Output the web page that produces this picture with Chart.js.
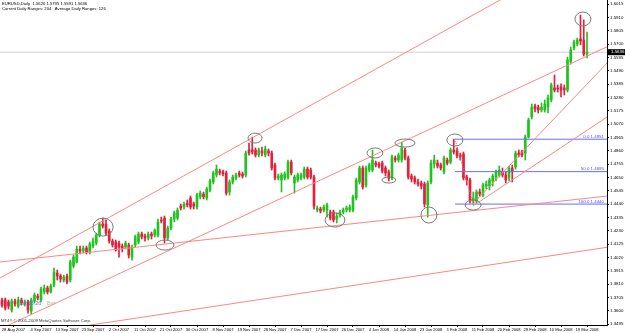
<!DOCTYPE html>
<html>
<head>
<meta charset="utf-8">
<script src="https://cdn.jsdelivr.net/npm/chart.js@4.4.1/dist/chart.umd.min.js"></script>
<style>
  html, body { margin: 0; padding: 0; background: #fff; }
  canvas { display: block; }
</style>
</head>
<body>
<canvas id="eurusdChart" width="625" height="333"></canvas>
<script>
// EURUSD daily candles, oldest first (last bar = 19 Mar 2008)
const opens = [
  1.3685,1.3685,1.3669,1.3606,1.3677,1.3637,1.3685,1.3653,1.3669,1.3598,
  1.3677,1.3716,1.3685,1.3748,1.3779,1.3748,1.3803,1.3897,1.3874,1.3842,
  1.3874,1.3842,1.3952,1.3984,1.4086,1.4070,1.4094,1.4063,1.4110,1.4133,
  1.4196,1.4283,1.4283,1.4228,1.4149,1.4141,1.4133,1.4110,1.4102,1.4118,
  1.4023,1.4118,1.4141,1.4204,1.4189,1.4173,1.4204,1.4196,1.4196,1.4315,
  1.4330,1.4173,1.4251,1.4322,1.4330,1.4425,1.4417,1.4448,1.4488,1.4441,
  1.4417,1.4496,1.4519,1.4488,1.4551,1.4614,1.4669,1.4700,1.4693,1.4685,
  1.4535,1.4614,1.4645,1.4685,1.4677,1.4669,1.4866,1.4866,1.4866,1.4826,
  1.4858,1.4826,1.4858,1.4842,1.4748,1.4645,1.4630,1.4645,1.4653,1.4771,
  1.4606,1.4630,1.4645,1.4653,1.4716,1.4708,1.4653,1.4393,1.4401,1.4393,
  1.4393,1.4378,1.4378,1.4322,1.4354,1.4378,1.4393,1.4393,1.4393,1.4488,
  1.4614,1.4724,1.4590,1.4708,1.4708,1.4763,1.4756,1.4763,1.4724,1.4693,
  1.4645,1.4803,1.4787,1.4787,1.4866,1.4803,1.4661,1.4645,1.4614,1.4606,
  1.4598,1.4433,1.4614,1.4756,1.4763,1.4748,1.4693,1.4787,1.4771,1.4866,
  1.4858,1.4826,1.4834,1.4653,1.4630,1.4472,1.4464,1.4535,1.4511,1.4582,
  1.4582,1.4622,1.4653,1.4669,1.4693,1.4669,1.4645,1.4724,1.4732,1.4842,
  1.4850,1.4842,1.4968,1.5126,1.5212,1.5204,1.5181,1.5181,1.5204,1.5260,
  1.5354,1.5354,1.5362,1.5354,1.5338,1.5559,1.5669,1.5700,1.5740,1.5732,
  1.5620
];
const highs = [
  1.3700,1.3700,1.3685,1.3692,1.3692,1.3708,1.3700,1.3685,1.3685,1.3700,
  1.3740,1.3732,1.3787,1.3803,1.3795,1.3811,1.3937,1.3921,1.3889,1.3881,
  1.3889,1.3999,1.4039,1.4110,1.4110,1.4110,1.4110,1.4141,1.4173,1.4212,
  1.4299,1.4330,1.4315,1.4244,1.4165,1.4157,1.4149,1.4126,1.4149,1.4133,
  1.4118,1.4196,1.4220,1.4220,1.4204,1.4220,1.4220,1.4244,1.4322,1.4338,
  1.4346,1.4267,1.4338,1.4385,1.4409,1.4441,1.4456,1.4472,1.4504,1.4456,
  1.4527,1.4543,1.4535,1.4574,1.4637,1.4700,1.4748,1.4716,1.4708,1.4700,
  1.4630,1.4669,1.4685,1.4700,1.4693,1.4858,1.4921,1.4968,1.4882,1.4882,
  1.4889,1.4897,1.4874,1.4858,1.4763,1.4677,1.4685,1.4693,1.4787,1.4787,
  1.4669,1.4685,1.4685,1.4732,1.4732,1.4724,1.4669,1.4425,1.4417,1.4433,
  1.4448,1.4393,1.4393,1.4370,1.4393,1.4409,1.4425,1.4433,1.4511,1.4645,
  1.4740,1.4740,1.4740,1.4763,1.4866,1.4779,1.4771,1.4779,1.4740,1.4708,
  1.4826,1.4819,1.4842,1.4929,1.4882,1.4819,1.4677,1.4661,1.4637,1.4622,
  1.4614,1.4622,1.4787,1.4826,1.4787,1.4763,1.4819,1.4803,1.4882,1.4952,
  1.4882,1.4842,1.4850,1.4669,1.4645,1.4535,1.4551,1.4559,1.4606,1.4622,
  1.4645,1.4677,1.4708,1.4740,1.4724,1.4693,1.4740,1.4748,1.4858,1.4866,
  1.4866,1.4984,1.5118,1.5228,1.5228,1.5220,1.5236,1.5260,1.5299,1.5393,
  1.5456,1.5378,1.5386,1.5378,1.5598,1.5677,1.5732,1.5748,1.5929,1.5890,
  1.5795
];
const lows = [
  1.3629,1.3606,1.3614,1.3590,1.3637,1.3622,1.3645,1.3637,1.3582,1.3574,
  1.3661,1.3685,1.3669,1.3732,1.3732,1.3740,1.3787,1.3842,1.3826,1.3826,
  1.3811,1.3826,1.3937,1.3976,1.4047,1.4055,1.4047,1.4047,1.4094,1.4118,
  1.4181,1.4251,1.4196,1.4133,1.4102,1.4070,1.4023,1.4063,1.4086,1.4015,
  1.3999,1.4102,1.4126,1.4165,1.4149,1.4157,1.4165,1.4181,1.4181,1.4291,
  1.4133,1.4157,1.4236,1.4299,1.4315,1.4393,1.4401,1.4417,1.4401,1.4401,
  1.4401,1.4480,1.4480,1.4472,1.4535,1.4598,1.4653,1.4669,1.4661,1.4511,
  1.4511,1.4598,1.4630,1.4653,1.4645,1.4653,1.4826,1.4834,1.4811,1.4811,
  1.4819,1.4811,1.4819,1.4708,1.4630,1.4630,1.4535,1.4630,1.4637,1.4669,
  1.4527,1.4614,1.4630,1.4637,1.4637,1.4637,1.4401,1.4378,1.4370,1.4378,
  1.4338,1.4315,1.4299,1.4291,1.4338,1.4362,1.4378,1.4378,1.4378,1.4472,
  1.4598,1.4559,1.4574,1.4693,1.4693,1.4732,1.4724,1.4685,1.4661,1.4622,
  1.4630,1.4771,1.4771,1.4771,1.4787,1.4637,1.4614,1.4598,1.4582,1.4559,
  1.4417,1.4338,1.4598,1.4724,1.4724,1.4708,1.4677,1.4748,1.4756,1.4834,
  1.4803,1.4787,1.4630,1.4590,1.4448,1.4441,1.4448,1.4504,1.4496,1.4559,
  1.4551,1.4582,1.4622,1.4653,1.4653,1.4606,1.4622,1.4614,1.4716,1.4811,
  1.4811,1.4787,1.4960,1.5110,1.5165,1.5157,1.5165,1.5165,1.5157,1.5244,
  1.5322,1.5322,1.5283,1.5299,1.5322,1.5543,1.5653,1.5685,1.5693,1.5606,
  1.5591
];
const closes = [
  1.3645,1.3622,1.3637,1.3677,1.3653,1.3685,1.3661,1.3669,1.3606,1.3685,
  1.3724,1.3700,1.3771,1.3779,1.3748,1.3795,1.3905,1.3874,1.3850,1.3866,
  1.3826,1.3984,1.4023,1.4086,1.4070,1.4094,1.4063,1.4126,1.4149,1.4196,
  1.4283,1.4267,1.4212,1.4149,1.4118,1.4078,1.4102,1.4094,1.4133,1.4039,
  1.4102,1.4181,1.4204,1.4181,1.4173,1.4204,1.4189,1.4236,1.4299,1.4307,
  1.4173,1.4251,1.4322,1.4370,1.4393,1.4409,1.4441,1.4433,1.4417,1.4425,
  1.4511,1.4527,1.4496,1.4559,1.4622,1.4685,1.4716,1.4685,1.4677,1.4527,
  1.4614,1.4653,1.4669,1.4669,1.4661,1.4842,1.4842,1.4850,1.4826,1.4866,
  1.4842,1.4874,1.4842,1.4724,1.4645,1.4661,1.4669,1.4677,1.4771,1.4685,
  1.4653,1.4669,1.4669,1.4716,1.4653,1.4653,1.4425,1.4409,1.4385,1.4417,
  1.4433,1.4330,1.4315,1.4346,1.4378,1.4393,1.4409,1.4417,1.4496,1.4630,
  1.4724,1.4574,1.4724,1.4748,1.4787,1.4748,1.4740,1.4700,1.4685,1.4645,
  1.4811,1.4787,1.4826,1.4882,1.4803,1.4653,1.4637,1.4614,1.4598,1.4582,
  1.4441,1.4606,1.4763,1.4787,1.4740,1.4724,1.4803,1.4763,1.4866,1.4850,
  1.4819,1.4811,1.4645,1.4630,1.4472,1.4488,1.4535,1.4519,1.4590,1.4598,
  1.4630,1.4661,1.4693,1.4708,1.4669,1.4630,1.4724,1.4700,1.4842,1.4826,
  1.4826,1.4968,1.5102,1.5204,1.5189,1.5181,1.5204,1.5228,1.5275,1.5378,
  1.5338,1.5346,1.5338,1.5338,1.5575,1.5653,1.5716,1.5732,1.5724,1.5621,
  1.5636
];

// time axis labels (one every 8 bars, counted back from the last bar)
const dateLabels = ['28 Aug 2007','4 Sep 2007','13 Sep 2007','23 Sep 2007','2 Oct 2007','11 Oct 2007',
  '21 Oct 2007','30 Oct 2007','8 Nov 2007','19 Nov 2007','28 Nov 2007','7 Dec 2007','17 Dec 2007',
  '26 Dec 2007','4 Jan 2008','14 Jan 2008','23 Jan 2008','1 Feb 2008','11 Feb 2008','20 Feb 2008',
  '29 Feb 2008','10 Mar 2008','19 Mar 2008'];
const priceTicks = [1.3495,1.3600,1.3705,1.3810,1.3915,1.4020,1.4125,1.4230,1.4335,1.4440,1.4545,
  1.4650,1.4755,1.4860,1.4965,1.5070,1.5175,1.5280,1.5385,1.5490,1.5595,1.5700,1.5805,1.5910,1.6015];

// objects drawn on the chart, as [bar, price] anchors
const trendLines = [
  [[-0.6, 1.3858], [186.2, 1.6516]],
  [[-0.6, 1.3456], [186.2, 1.5679]],
  [[-0.6, 1.3984], [186.2, 1.4503]],
  [[-0.6, 1.3381], [186.2, 1.4100]],
  [[144.6, 1.4433], [186.2, 1.5551]],
  [[144.9, 1.4425], [186.2, 1.5126]]
];
const fiboHigh = [139.4, 1.4951];
const fiboLow = [144.9, 1.4440];
const fiboLevels = [0, 50, 100];
const bidPrice = 1.5636;
// ellipses: [bar1, price1, bar2, price2]
const ellipses = [
  [28.0, 1.4330, 34.2, 1.4188], [47.4, 1.4157, 52.9, 1.4078], [75.7, 1.4999, 80.0, 1.4921],
  [99.4, 1.4370, 105.5, 1.4259], [112.3, 1.4882, 117.2, 1.4803], [116.9, 1.4653, 121.2, 1.4606],
  [120.9, 1.4952, 127.1, 1.4889], [128.9, 1.4417, 133.8, 1.4291], [136.9, 1.4992, 141.8, 1.4897],
  [142.5, 1.4472, 147.4, 1.4393], [176.3, 1.5952, 181.2, 1.5842]
];
const headerLines = ['EURUSD,Daily  1.5620 1.5795 1.5591 1.5636',
  'Current Daily Ranges: 204   Average Daily Ranges: 126'];

const lastBar = opens.length - 1;
const isBull = closes.map((c, i) => c >= opens[i]);
const bullColor = '#1fc41f';
const bearColor = '#e4203a';
const fiboPrice = lvl => fiboHigh[1] - (fiboHigh[1] - fiboLow[1]) * lvl / 100;

// tick positions: every 8 bars back from the last one, first label pinned to the left edge
const dateBars = dateLabels.map((d, k) => k === 0 ? 3.5 : lastBar - 8 * (dateLabels.length - 1 - k));

const datasets = [];
trendLines.forEach(l => {
  datasets.push({
    type: 'line', data: l.map(p => ({ x: p[0], y: p[1] })),
    borderColor: '#ff8585', borderWidth: 1, pointRadius: 0, order: 0
  });
});
datasets.push({
  type: 'line', data: [{ x: fiboHigh[0], y: fiboHigh[1] }, { x: fiboLow[0], y: fiboLow[1] }],
  borderColor: '#f06a6a', borderWidth: 1, borderDash: [1, 1], pointRadius: 0, order: 0
});
fiboLevels.forEach(lvl => {
  datasets.push({
    type: 'line', data: [{ x: fiboHigh[0], y: fiboPrice(lvl) }, { x: 186.2, y: fiboPrice(lvl) }],
    borderColor: '#6b6bf5', borderWidth: 1, pointRadius: 0, order: 0
  });
});
datasets.push({
  type: 'line', data: [{ x: -0.6, y: bidPrice }, { x: 186.2, y: bidPrice }],
  borderColor: '#cfcfcf', borderWidth: 1, pointRadius: 0, order: 3
});
// candle bodies
datasets.push({
  type: 'bar', data: opens.map((o, i) => ({ x: i, y: [o, closes[i]] })),
  backgroundColor: isBull.map(b => b ? bullColor : bearColor),
  barThickness: 2, minBarLength: 1, grouped: false, borderWidth: 0, order: 1
});
// wicks
datasets.push({
  type: 'bar', data: lows.map((l, i) => ({ x: i, y: [l, highs[i]] })),
  backgroundColor: isBull.map(b => b ? bullColor : bearColor),
  barThickness: 1, grouped: false, borderWidth: 0, order: 2
});

const overlay = {
  id: 'overlay',
  afterDraw(chart) {
    const { ctx, chartArea: a, scales: { x, y } } = chart;
    ctx.save();
    ctx.beginPath();
    ctx.rect(a.left, a.top, a.right - a.left, a.bottom - a.top);
    ctx.clip();
    ctx.strokeStyle = '#7a7a7a';
    ctx.lineWidth = 1;
    ellipses.forEach(([b1, p1, b2, p2]) => {
      const x1 = x.getPixelForValue(b1), x2 = x.getPixelForValue(b2);
      const y1 = y.getPixelForValue(p1), y2 = y.getPixelForValue(p2);
      ctx.beginPath();
      ctx.ellipse((x1 + x2) / 2, (y1 + y2) / 2, Math.abs(x2 - x1) / 2, Math.abs(y2 - y1) / 2, 0, 0, Math.PI * 2);
      ctx.stroke();
    });
    ctx.font = '4.4px "Liberation Sans"';
    ctx.fillStyle = '#4a4aff';
    ctx.textAlign = 'right';
    ctx.textBaseline = 'bottom';
    fiboLevels.forEach(lvl => {
      const p = fiboPrice(lvl);
      ctx.fillText(lvl.toFixed(1) + ' ' + p.toFixed(4), a.right - 3, y.getPixelForValue(p) - 0.5);
    });
    ctx.textAlign = 'left';
    ctx.textBaseline = 'middle';
    ctx.fillStyle = '#000';
    ctx.font = '4.2px "Liberation Sans"';
    headerLines.forEach((t, i) => ctx.fillText(t, 2, 4 + i * 5));
    ctx.font = '5.5px "Liberation Sans"';
    ctx.fillStyle = '#6a6aff';
    ctx.fillText('23:15:26', 20, 303.5);
    ctx.fillStyle = '#b8b8b8';
    ctx.fillText('Bar', 47, 303.5);
    ctx.font = '4.2px "Liberation Sans"';
    ctx.fillStyle = '#333';
    ctx.fillText('MT4\u00ae \u00a9 2001-2009 MetaQuotes Software Corp.', 1, 320.5);
    ctx.restore();
    // current price tag on the price axis
    const py = y.getPixelForValue(bidPrice);
    ctx.save();
    ctx.fillStyle = '#000';
    ctx.fillRect(a.right + 1, py - 3, chart.width - a.right - 1, 6);
    ctx.fillStyle = '#fff';
    ctx.font = '4.4px "Liberation Sans"';
    ctx.textBaseline = 'middle';
    ctx.fillText(bidPrice.toFixed(4), a.right + 4, py);
    ctx.restore();
  }
};

const ctx = document.getElementById('eurusdChart').getContext('2d');
const chart = new Chart(ctx, {
  type: 'bar',
  data: { datasets: datasets },
  plugins: [overlay],
  options: {
    responsive: false,
    animation: false,
    devicePixelRatio: 1,
    layout: { padding: 0 },
    plugins: { legend: { display: false }, tooltip: { enabled: false } },
    scales: {
      x: {
        type: 'linear', min: -2 / 3.25, max: 605 / 3.25, offset: false,
        afterBuildTicks: s => { s.ticks = dateBars.map(v => ({ value: v })); },
        afterFit: s => { s.height = 8; s.paddingLeft = 0; s.paddingRight = 0; },
        ticks: {
          autoSkip: false, maxRotation: 0, minRotation: 0, padding: 0, color: '#000',
          font: { size: 4.1, family: 'Liberation Sans' },
          callback: (v, i) => dateLabels[i]
        },
        grid: { drawOnChartArea: false, tickLength: 2, color: '#000', offset: false },
        border: { color: '#000' }
      },
      y: {
        position: 'right', min: 1.3488, max: 1.6047,
        afterBuildTicks: s => { s.ticks = priceTicks.map(v => ({ value: v })); },
        afterFit: s => { s.width = 18; s.paddingTop = 0; s.paddingBottom = 0; },
        ticks: {
          autoSkip: false, padding: 1, color: '#000',
          font: { size: 4.4, family: 'Liberation Sans' },
          callback: v => v.toFixed(4)
        },
        grid: { drawOnChartArea: false, tickLength: 2, color: '#000' },
        border: { color: '#000' }
      }
    }
  }
});
</script>
</body>
</html>
